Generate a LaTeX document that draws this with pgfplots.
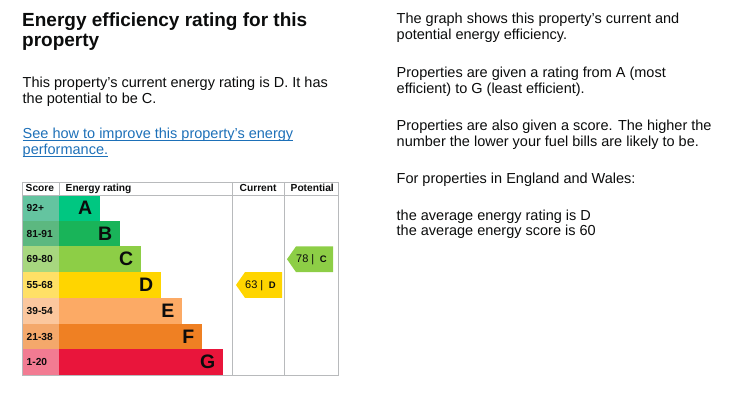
\documentclass[border=0pt]{standalone}
\usepackage{pgfplots}
\pgfplotsset{compat=1.18}
\usepackage{fontspec}
\setmainfont{Liberation Sans}
\definecolor{txt}{HTML}{0B0C0C}
\definecolor{linkblue}{HTML}{1D70B8}
\definecolor{gridc}{HTML}{B8BABC}
\definecolor{cA}{HTML}{00C781}
\definecolor{cB}{HTML}{19B459}
\definecolor{cC}{HTML}{8DCE46}
\definecolor{cD}{HTML}{FFD500}
\definecolor{cE}{HTML}{FCAA65}
\definecolor{cF}{HTML}{EF8023}
\definecolor{cG}{HTML}{E9153B}
\definecolor{sA}{HTML}{64C4A0}
\definecolor{sB}{HTML}{5CB880}
\definecolor{sC}{HTML}{A7D77F}
\definecolor{sD}{HTML}{FFE066}
\definecolor{sE}{HTML}{FBC79E}
\definecolor{sF}{HTML}{F4A86B}
\definecolor{sG}{HTML}{F27B92}
\newcommand\body{\fontsize{14.5}{16}\selectfont}
\newcommand\ulink[1]{\setbox0\hbox{#1}\rlap{\color{linkblue}\rule[-2.3pt]{\wd0}{0.9pt}}\box0}
\begin{document}
\begin{tikzpicture}
\begin{axis}[name=ax, width=736pt, height=393pt, scale only axis,
  xmin=0, xmax=736, ymin=0, ymax=393, y dir=reverse, hide axis, clip=false]
% score column
\addplot[fill=sA, draw=none, mark=none] coordinates {(22,195) (59,195) (59,220.7) (22,220.7)} -- cycle;
\addplot[fill=sB, draw=none, mark=none] coordinates {(22,220.7) (59,220.7) (59,246.4) (22,246.4)} -- cycle;
\addplot[fill=sC, draw=none, mark=none] coordinates {(22,246.4) (59,246.4) (59,272.1) (22,272.1)} -- cycle;
\addplot[fill=sD, draw=none, mark=none] coordinates {(22,272.1) (59,272.1) (59,297.9) (22,297.9)} -- cycle;
\addplot[fill=sE, draw=none, mark=none] coordinates {(22,297.9) (59,297.9) (59,323.6) (22,323.6)} -- cycle;
\addplot[fill=sF, draw=none, mark=none] coordinates {(22,323.6) (59,323.6) (59,349.3) (22,349.3)} -- cycle;
\addplot[fill=sG, draw=none, mark=none] coordinates {(22,349.3) (59,349.3) (59,375) (22,375)} -- cycle;
% rating bars
\addplot[fill=cA, draw=none, mark=none] coordinates {(59,195) (100,195) (100,220.7) (59,220.7)} -- cycle;
\addplot[fill=cB, draw=none, mark=none] coordinates {(59,220.7) (120,220.7) (120,246.4) (59,246.4)} -- cycle;
\addplot[fill=cC, draw=none, mark=none] coordinates {(59,246.4) (141,246.4) (141,272.1) (59,272.1)} -- cycle;
\addplot[fill=cD, draw=none, mark=none] coordinates {(59,272.1) (161,272.1) (161,297.9) (59,297.9)} -- cycle;
\addplot[fill=cE, draw=none, mark=none] coordinates {(59,297.9) (182,297.9) (182,323.6) (59,323.6)} -- cycle;
\addplot[fill=cF, draw=none, mark=none] coordinates {(59,323.6) (202,323.6) (202,349.3) (59,349.3)} -- cycle;
\addplot[fill=cG, draw=none, mark=none] coordinates {(59,349.3) (223,349.3) (223,375) (59,375)} -- cycle;
% current (63, D) and potential (78, C) arrows
\addplot[fill=cD, draw=none, mark=none] coordinates {(236,285) (245,272.1) (282,272.1) (282,297.9) (245,297.9)} -- cycle;
\addplot[fill=cC, draw=none, mark=none] coordinates {(287,259.2) (296,246.4) (333,246.4) (333,272.1) (296,272.1)} -- cycle;
% table lines
\addplot[draw=gridc, line width=0.9pt, mark=none] coordinates {(22,195) (338,195)};
\addplot[draw=gridc, line width=0.9pt, mark=none] coordinates {(59,182) (59,195)};
\addplot[draw=gridc, line width=0.9pt, mark=none] coordinates {(232,182) (232,375)};
\addplot[draw=gridc, line width=0.9pt, mark=none] coordinates {(284,182) (284,375)};
\addplot[draw=gridc, line width=0.9pt, mark=none] coordinates {(22,182) (338,182) (338,375) (22,375)} -- cycle;
% header texts
\begin{scope}[every node/.style={inner sep=0pt, text=txt, font=\fontsize{10.2}{12}\selectfont\bfseries}]
\node[anchor=base west] at (axis cs:25.5,191.5) {Score};
\node[anchor=base west] at (axis cs:65.5,191.5) {Energy rating};
\node[anchor=base west] at (axis cs:239.5,191.5) {Current};
\node[anchor=base west] at (axis cs:290.5,191.5) {Potential};
\node[anchor=base west] at (axis cs:26.5,211.5) {92+};
\node[anchor=base west] at (axis cs:26.5,237.2) {81-91};
\node[anchor=base west] at (axis cs:26.5,262.9) {69-80};
\node[anchor=base west] at (axis cs:26.5,288.6) {55-68};
\node[anchor=base west] at (axis cs:26.5,314.4) {39-54};
\node[anchor=base west] at (axis cs:26.5,340.1) {21-38};
\node[anchor=base west] at (axis cs:26.5,365.8) {1-20};
\end{scope}
\begin{scope}[every node/.style={inner sep=0pt, text=txt, font=\fontsize{19.5}{22}\selectfont\bfseries, anchor=base east}]
\node at (axis cs:92.5,214.5) {A};
\node at (axis cs:112.5,240.2) {B};
\node at (axis cs:133.5,265.9) {C};
\node at (axis cs:153.5,291.6) {D};
\node at (axis cs:174.5,317.4) {E};
\node at (axis cs:194.5,343.1) {F};
\node at (axis cs:215.5,368.8) {G};
\end{scope}
\node[inner sep=0pt, anchor=base west, text=txt, font=\fontsize{11}{12}\selectfont] at (axis cs:245,288.5) {63 |\hspace{5.5pt}{\fontsize{9.5}{10}\selectfont\bfseries D}};
\node[inner sep=0pt, anchor=base west, text=txt, font=\fontsize{11}{12}\selectfont] at (axis cs:296,262.8) {78 |\hspace{5.5pt}{\fontsize{9.5}{10}\selectfont\bfseries C}};
% left texts
\begin{scope}[every node/.style={inner sep=0pt, anchor=base west, text=txt}]
\node[font=\fontsize{19}{22}\selectfont\bfseries] at (axis cs:22,27) {Energy efficiency rating for this};
\node[font=\fontsize{19}{22}\selectfont\bfseries] at (axis cs:22,47) {property};
\node[font=\body] at (axis cs:22.5,88) {This property’s current energy rating is D. It has};
\node[font=\body] at (axis cs:22.5,104) {the potential to be C.};
\node[font=\body, text=linkblue] at (axis cs:22.5,138.5) {\ulink{See how to improve this property’s energy}};
\node[font=\body, text=linkblue] at (axis cs:22.5,154.5) {\ulink{performance.}};
\node[font=\body] at (axis cs:396.5,23.5) {The graph shows this property’s current and};
\node[font=\body] at (axis cs:396.5,39.3) {potential energy efficiency.};
\node[font=\body] at (axis cs:396.5,77.3) {Properties are given a rating from A (most};
\node[font=\body] at (axis cs:396.5,93.3) {efficient) to G (least efficient).};
\node[font=\body] at (axis cs:396.5,130.7) {Properties are also given a score. The higher the};
\node[font=\body] at (axis cs:396.5,146.2) {number the lower your fuel bills are likely to be.};
\node[font=\body] at (axis cs:396.5,183.5) {For properties in England and Wales:};
\node[font=\body] at (axis cs:396.5,220) {the average energy rating is D};
\node[font=\body] at (axis cs:396.5,235.7) {the average energy score is 60};
\end{scope}
\end{axis}
\pgfresetboundingbox
\path[use as bounding box] (ax.south west) rectangle (ax.north east);
\end{tikzpicture}
\end{document}
